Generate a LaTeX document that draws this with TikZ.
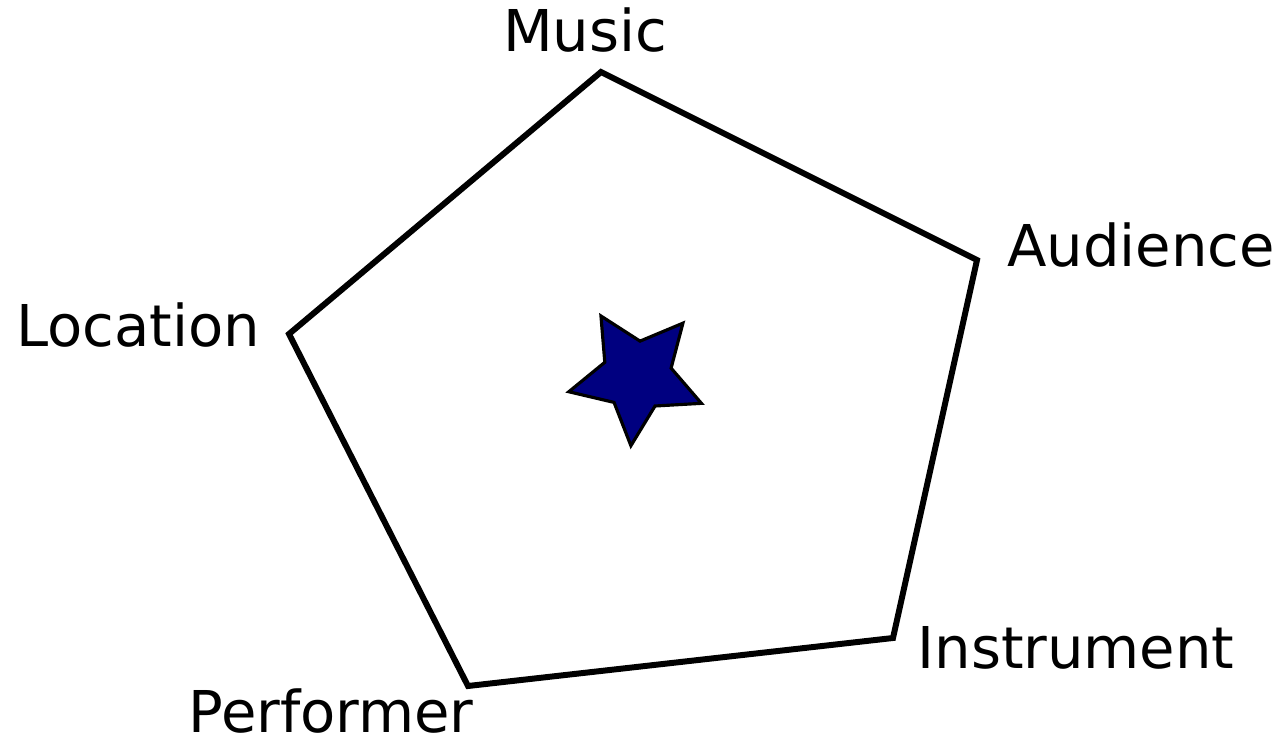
\documentclass[tikz,border=0pt]{standalone}
\usepackage{fontspec}
\setmainfont{DejaVu Sans}
\usetikzlibrary{shapes.geometric}
\definecolor{starblue}{HTML}{000080}
\tikzset{
	side/.style={line width=3.4pt, line join=miter},
	corner/.style={font=\fontsize{32.8}{40}\selectfont, inner sep=0pt, anchor=base},
	hub/.style={star, star points=5, star point ratio=2, draw=black,
		line width=1.8pt, fill=starblue, minimum size=2.8cm, inner sep=0pt, rotate=31},
}

\begin{document}
\begin{tikzpicture}[x=0.02cm, y=-0.02cm]
	\useasboundingbox (0,0) rectangle (1283,742);
	\coordinate (music) at (601,72);
	\coordinate (audience) at (977,260);
	\coordinate (instrument) at (893,638);
	\coordinate (performer) at (468,686);
	\coordinate (location) at (289,334);
	\draw[side] (music) -- (audience) -- (instrument) -- (performer) -- (location) -- cycle;
	\node[hub] (core) at (637,376) {};
	\node[corner] (musiclbl) at (585,52) {Music};
	\node[corner] (audiencelbl) at (1141,267) {Audience};
	\node[corner] (instrumentlbl) at (1076,668) {Instrument};
	\node[corner] (performerlbl) at (331,732) {Performer};
	\node[corner] (locationlbl) at (138,347) {Location};
\end{tikzpicture}
\end{document}
